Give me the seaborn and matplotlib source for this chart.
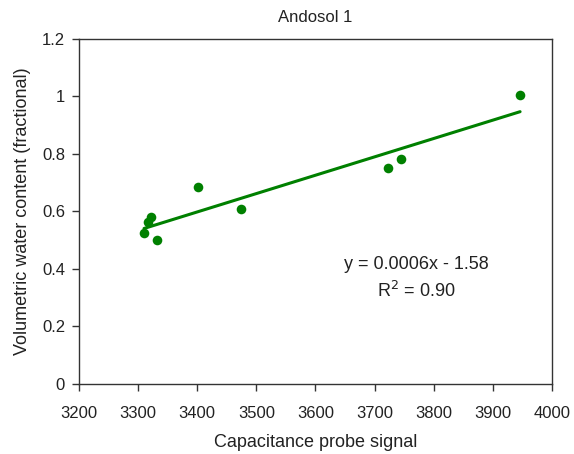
import matplotlib
matplotlib.use("Agg")
import matplotlib.pyplot as plt
import seaborn as sns
import pandas as pd
from matplotlib.ticker import FuncFormatter

signal = [3310, 3317, 3321, 3332, 3401, 3474, 3723, 3745, 3946]
water = [0.524, 0.565, 0.582, 0.501, 0.684, 0.610, 0.751, 0.784, 1.004]
title = "Andosol 1"
eq_text = "y = 0.0006x - 1.58"
r2_text = "R$^2$ = 0.90"

sns.set_style("white")
plt.rcParams['font.family'] = ['Liberation Sans', 'DejaVu Sans']

df = pd.DataFrame({"signal": signal, "water": water})

fig = plt.figure(figsize=(5.74, 4.54), dpi=100)
ax = fig.add_axes([0.1376, 0.1542, 0.9617 - 0.1376, 0.9141 - 0.1542])

green = "#008000"
sns.regplot(data=df, x="signal", y="water", ax=ax, ci=None, color=green,
            scatter_kws=dict(s=48, marker="o", linewidths=0, alpha=1),
            line_kws=dict(lw=2.2))

ax.set_xlim(3200, 4000)
ax.set_ylim(0, 1.2)
ax.set_xticks(range(3200, 4001, 100))
ax.set_yticks([0, 0.2, 0.4, 0.6, 0.8, 1.0, 1.2])
ax.yaxis.set_major_formatter(FuncFormatter(lambda v, p: f"{v:g}"))

for s in ax.spines.values():
    s.set_visible(True)
    s.set_color("#333333")
    s.set_linewidth(1.0)

tc = "#222222"
ax.tick_params(axis="both", which="major", direction="out", length=5, width=1,
               color="#333333", labelsize=12, labelcolor=tc, pad=5,
               bottom=True, left=True)
ax.tick_params(axis="x", pad=11)
ax.set_xlabel("Capacitance probe signal", fontsize=13, color=tc, labelpad=9)
ax.set_ylabel("Volumetric water content (fractional)", fontsize=13, color=tc, labelpad=8)
ax.set_title(title, fontsize=12, color=tc, pad=12)

ax.text(3770, 0.414, eq_text, ha="center", va="center", fontsize=13, color=tc)
ax.text(3770, 0.322, r2_text, ha="center", va="center", fontsize=13, color=tc)

fig.savefig("out.png", dpi=100)
